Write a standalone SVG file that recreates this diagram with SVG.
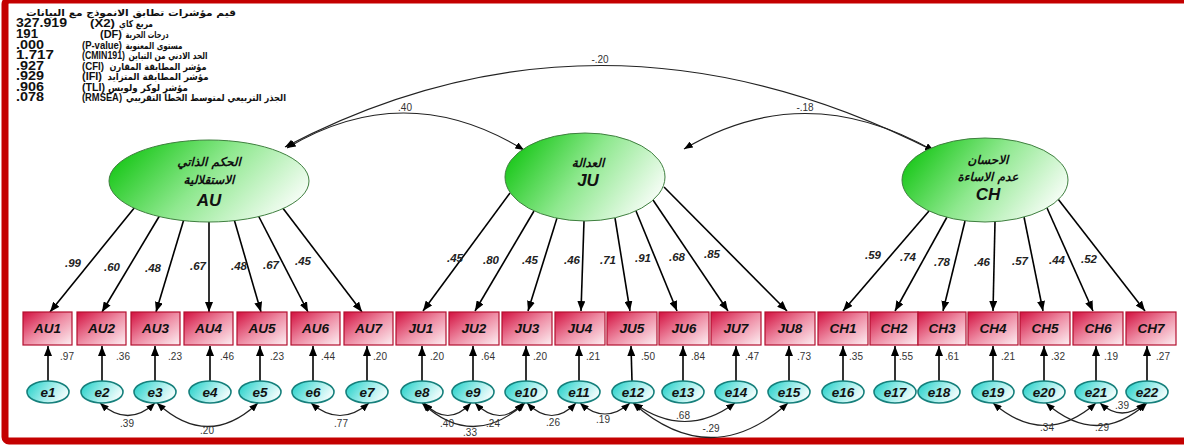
<svg xmlns="http://www.w3.org/2000/svg" width="1184" height="446" viewBox="0 0 1184 446">
<defs>
<linearGradient id="gBox" x1="0" y1="0" x2="1" y2="1">
<stop offset="0" stop-color="#d3103f"/><stop offset="0.5" stop-color="#ee8ca4"/><stop offset="1" stop-color="#fdf0f3"/>
</linearGradient>
<linearGradient id="gLat" x1="0" y1="0.35" x2="1" y2="0.75">
<stop offset="0" stop-color="#1cc81c"/><stop offset="0.45" stop-color="#8ee88e"/><stop offset="1" stop-color="#ffffff"/>
</linearGradient>
<linearGradient id="gErr" x1="0" y1="0.3" x2="1" y2="0.7">
<stop offset="0" stop-color="#2fd3cc"/><stop offset="0.55" stop-color="#a8efec"/><stop offset="1" stop-color="#ffffff"/>
</linearGradient>
<marker id="ah" viewBox="0 0 10 8" refX="10" refY="4" markerWidth="10" markerHeight="8" markerUnits="userSpaceOnUse" orient="auto-start-reverse">
<path d="M0,0 L10,4 L0,8 z" fill="#000"/>
</marker>
<marker id="ahs" viewBox="0 0 10 8" refX="10" refY="4" markerWidth="9" markerHeight="7" markerUnits="userSpaceOnUse" orient="auto-start-reverse">
<path d="M0,0 L10,4 L0,8 z" fill="#000"/>
</marker>
</defs>
<style>
.box{fill:url(#gBox);stroke:#b3102f;stroke-width:1.2}
.lat{fill:url(#gLat);stroke:#3f7f3f;stroke-width:1}
.err{fill:url(#gErr);stroke:#16807c;stroke-width:1.6}
.bl{font-family:"Liberation Sans",Arial,sans-serif;font-weight:bold;font-style:italic;font-size:13.5px;fill:#111;text-anchor:middle}
.el{font-family:"Liberation Sans",Arial,sans-serif;font-weight:bold;font-style:italic;font-size:13.5px;fill:#111;text-anchor:middle}
.ld{font-family:"Liberation Sans",Arial,sans-serif;font-weight:bold;font-style:italic;font-size:11.5px;fill:#222;text-anchor:middle}
.sm{font-family:"Liberation Sans",Arial,sans-serif;font-size:10px;fill:#333;text-anchor:middle}
.ar{font-family:"DejaVu Sans",sans-serif;font-weight:bold;font-size:9.5px;fill:#111;text-anchor:middle}
.num{font-family:"Liberation Sans",Arial,sans-serif;font-weight:bold;font-size:12px;fill:#111}
.pr{font-family:"Liberation Sans",Arial,sans-serif;font-weight:bold;font-size:11.5px;fill:#111}
.lt{font-family:"DejaVu Sans",sans-serif;font-weight:bold;font-style:italic;font-size:12px;fill:#111;text-anchor:middle}
.lc{font-family:"Liberation Sans",Arial,sans-serif;font-weight:bold;font-style:italic;font-size:17px;fill:#111;text-anchor:middle}
.ln{stroke:#000;stroke-width:1.6;fill:none;marker-end:url(#ah)}
.cv{stroke:#222;stroke-width:1.2;fill:none;marker-start:url(#ahs);marker-end:url(#ahs)}
</style>
<rect x="0" y="0" width="1184" height="446" fill="#fff"/>
<rect x="5" y="0" width="1186" height="441" rx="4" fill="none" stroke="#c40000" stroke-width="7"/>

<g id="fit-indices">
<text class="ar" x="131" y="16" textLength="210" lengthAdjust="spacingAndGlyphs">قيم مؤشرات تطابق الانموذج مع البيانات</text>
<text class="num" x="16" y="27" textLength="51" lengthAdjust="spacingAndGlyphs">327.919</text><text class="pr" x="90" y="27" textLength="25" lengthAdjust="spacingAndGlyphs">(X2)</text><text class="ar" x="136" y="27" textLength="34" lengthAdjust="spacingAndGlyphs">مربع كاي</text>
<text class="num" x="16" y="38" textLength="22" lengthAdjust="spacingAndGlyphs">191</text><text class="pr" x="100" y="38" textLength="22" lengthAdjust="spacingAndGlyphs">(DF)</text><text class="ar" x="147" y="38" textLength="43" lengthAdjust="spacingAndGlyphs">درجات الحرية</text>
<text class="num" x="16" y="49" textLength="28" lengthAdjust="spacingAndGlyphs">.000</text><text class="pr" x="82" y="49" textLength="40" lengthAdjust="spacingAndGlyphs">(P-value)</text><text class="ar" x="154" y="49" textLength="57" lengthAdjust="spacingAndGlyphs">مستوى المعنوية</text>
<text class="num" x="16" y="59" textLength="38" lengthAdjust="spacingAndGlyphs">1.717</text><text class="pr" x="82" y="59" textLength="43" lengthAdjust="spacingAndGlyphs">(CMIN191)</text><text class="ar" x="168" y="59" textLength="79" lengthAdjust="spacingAndGlyphs">الحد الادني من التباين</text>
<text class="num" x="16" y="70" textLength="28" lengthAdjust="spacingAndGlyphs">.927</text><text class="pr" x="82" y="70" textLength="22" lengthAdjust="spacingAndGlyphs">(CFI)</text><text class="ar" x="158" y="70" textLength="97" lengthAdjust="spacingAndGlyphs">مؤشر المطابقة المقارن</text>
<text class="num" x="16" y="80" textLength="28" lengthAdjust="spacingAndGlyphs">.929</text><text class="pr" x="82" y="80" textLength="20" lengthAdjust="spacingAndGlyphs">(IFI)</text><text class="ar" x="158" y="80" textLength="101" lengthAdjust="spacingAndGlyphs">مؤشر المطابقة المتزايد</text>
<text class="num" x="16" y="91" textLength="28" lengthAdjust="spacingAndGlyphs">.906</text><text class="pr" x="82" y="91" textLength="23" lengthAdjust="spacingAndGlyphs">(TLI)</text><text class="ar" x="148" y="91" textLength="80" lengthAdjust="spacingAndGlyphs">مؤشر لوكر ولويس</text>
<text class="num" x="16" y="101" textLength="28" lengthAdjust="spacingAndGlyphs">.078</text><text class="pr" x="82" y="101" textLength="40" lengthAdjust="spacingAndGlyphs">(RMSEA)</text><text class="ar" x="206" y="101" textLength="160" lengthAdjust="spacingAndGlyphs">الجذر التربيعي لمتوسط الخطأ التقريبي</text>
</g>

<g id="connectors">
<path class="cv" d="M287,148 Q405,77 524,150"/>
<path class="cv" d="M684,149 Q805,77 934,151"/>
<path class="cv" d="M285,147 Q600,-18 934,151"/>
<text class="sm" x="405" y="111">.40</text>
<text class="sm" x="805" y="111">-.18</text>
<text class="sm" x="600" y="63">-.20</text>
<path class="ln" d="M135,207 L50,312"/>
<path class="ln" d="M160,215 L102,312"/>
<path class="ln" d="M184,219 L156,312"/>
<path class="ln" d="M209,220 L209,312"/>
<path class="ln" d="M234,219 L261,312"/>
<path class="ln" d="M258,215 L308,312"/>
<path class="ln" d="M282,207 L362,312"/>
<path class="ln" d="M510,193 L423,311"/>
<path class="ln" d="M534,211 L475,311"/>
<path class="ln" d="M557,218 L528,311"/>
<path class="ln" d="M584,221 L581,311"/>
<path class="ln" d="M615,218 L630,311"/>
<path class="ln" d="M636,211 L677,311"/>
<path class="ln" d="M653,200 L728,311"/>
<path class="ln" d="M664,187 L787,311"/>
<path class="ln" d="M929,211 L843,311"/>
<path class="ln" d="M947,217 L895,311"/>
<path class="ln" d="M965,221 L943,311"/>
<path class="ln" d="M995,222 L993,311"/>
<path class="ln" d="M1024,217 L1043,311"/>
<path class="ln" d="M1047,208 L1093,311"/>
<path class="ln" d="M1058,199 L1145,311"/>
<text class="ld" x="73" y="267">.99</text>
<text class="ld" x="112" y="271">.60</text>
<text class="ld" x="153" y="272">.48</text>
<text class="ld" x="198" y="270">.67</text>
<text class="ld" x="239" y="270">.48</text>
<text class="ld" x="271" y="269">.67</text>
<text class="ld" x="303" y="265">.45</text>
<text class="ld" x="455" y="262">.45</text>
<text class="ld" x="491" y="264">.80</text>
<text class="ld" x="530" y="264">.45</text>
<text class="ld" x="572" y="264">.46</text>
<text class="ld" x="608" y="264">.71</text>
<text class="ld" x="643" y="262">.91</text>
<text class="ld" x="677" y="261">.68</text>
<text class="ld" x="712" y="258">.85</text>
<text class="ld" x="873" y="259">.59</text>
<text class="ld" x="908" y="261">.74</text>
<text class="ld" x="942" y="266">.78</text>
<text class="ld" x="982" y="266">.46</text>
<text class="ld" x="1020" y="265">.57</text>
<text class="ld" x="1057" y="264">.44</text>
<text class="ld" x="1089" y="263">.52</text>
<path class="ln" d="M48,381 L48,346"/>
<path class="ln" d="M102,381 L102,346"/>
<path class="ln" d="M155,381 L155,346"/>
<path class="ln" d="M210,381 L210,346"/>
<path class="ln" d="M260,381 L260,346"/>
<path class="ln" d="M313,381 L313,346"/>
<path class="ln" d="M367,381 L367,346"/>
<path class="ln" d="M422,381 L422,346"/>
<path class="ln" d="M473,381 L473,346"/>
<path class="ln" d="M526,381 L526,346"/>
<path class="ln" d="M579,381 L579,346"/>
<path class="ln" d="M632,381 L631,346"/>
<path class="ln" d="M683,381 L683,346"/>
<path class="ln" d="M736,381 L736,346"/>
<path class="ln" d="M789,381 L789,346"/>
<path class="ln" d="M843,381 L843,346"/>
<path class="ln" d="M895,381 L895,346"/>
<path class="ln" d="M939,381 L939,346"/>
<path class="ln" d="M993,381 L993,346"/>
<path class="ln" d="M1044,381 L1044,346"/>
<path class="ln" d="M1096,381 L1096,346"/>
<path class="ln" d="M1147,381 L1147,346"/>
<text class="sm" x="67" y="360">.97</text>
<text class="sm" x="123" y="360">.36</text>
<text class="sm" x="175" y="360">.23</text>
<text class="sm" x="227" y="360">.46</text>
<text class="sm" x="277" y="360">.23</text>
<text class="sm" x="328" y="360">.44</text>
<text class="sm" x="380" y="360">.20</text>
<text class="sm" x="437" y="360">.20</text>
<text class="sm" x="488" y="360">.64</text>
<text class="sm" x="540" y="360">.20</text>
<text class="sm" x="593" y="360">.21</text>
<text class="sm" x="648" y="360">.50</text>
<text class="sm" x="698" y="360">.84</text>
<text class="sm" x="752" y="360">.47</text>
<text class="sm" x="804" y="360">.73</text>
<text class="sm" x="856" y="360">.35</text>
<text class="sm" x="906" y="360">.55</text>
<text class="sm" x="952" y="360">.61</text>
<text class="sm" x="1008" y="360">.21</text>
<text class="sm" x="1058" y="360">.32</text>
<text class="sm" x="1111" y="360">.19</text>
<text class="sm" x="1163" y="360">.27</text>
<path class="cv" d="M100,403 Q128,428 155,403"/>
<path class="cv" d="M157,403 Q208,450 258,403"/>
<path class="cv" d="M311,403 Q340,428 369,403"/>
<path class="cv" d="M424,403 Q448,428 471,403"/>
<path class="cv" d="M475,403 Q500,428 523,403"/>
<path class="cv" d="M422,403 Q473,450 525,403"/>
<path class="cv" d="M527,403 Q552,428 576,403"/>
<path class="cv" d="M580,403 Q605,425 630,403"/>
<path class="cv" d="M634,403 Q685,440 735,403"/>
<path class="cv" d="M633,403 Q711,472 788,403"/>
<path class="cv" d="M993,403 Q1045,448 1096,403"/>
<path class="cv" d="M1046,403 Q1097,448 1147,403"/>
<path class="cv" d="M1100,403 Q1122,423 1145,403"/>
<text class="sm" x="127" y="427">.39</text>
<text class="sm" x="207" y="434">.20</text>
<text class="sm" x="341" y="427">.77</text>
<text class="sm" x="447" y="427">.40</text>
<text class="sm" x="493" y="427">.24</text>
<text class="sm" x="470" y="436">.33</text>
<text class="sm" x="553" y="426">.26</text>
<text class="sm" x="603" y="423">.19</text>
<text class="sm" x="683" y="419">.68</text>
<text class="sm" x="711" y="432">-.29</text>
<text class="sm" x="1047" y="431">.34</text>
<text class="sm" x="1102" y="431">.29</text>
<text class="sm" x="1122" y="409">.39</text>
</g>

<g id="AU"><ellipse class="lat" cx="209" cy="181" rx="100" ry="41"/><text class="lt" x="209" y="166">الحكم الذاتي</text><text class="lt" x="209" y="184">الاستقلالية</text><text class="lc" x="209" y="206">AU</text></g>
<g id="JU"><ellipse class="lat" cx="585" cy="177" rx="80" ry="44"/><text class="lt" x="588" y="167">العدالة</text><text class="lc" x="588" y="186">JU</text></g>
<g id="CH"><ellipse class="lat" cx="985" cy="180" rx="83" ry="42"/><text class="lt" x="988" y="164">الاحسان</text><text class="lt" x="988" y="181">عدم الاساءة</text><text class="lc" x="988" y="200">CH</text></g>

<g id="AU1"><rect class="box" x="23" y="312" width="49" height="33"/><text class="bl" x="47.5" y="333">AU1</text></g>
<g id="AU2"><rect class="box" x="77" y="312" width="49" height="33"/><text class="bl" x="101.5" y="333">AU2</text></g>
<g id="AU3"><rect class="box" x="131" y="312" width="49" height="33"/><text class="bl" x="155.5" y="333">AU3</text></g>
<g id="AU4"><rect class="box" x="184" y="312" width="49" height="33"/><text class="bl" x="208.5" y="333">AU4</text></g>
<g id="AU5"><rect class="box" x="237" y="312" width="50" height="33"/><text class="bl" x="262" y="333">AU5</text></g>
<g id="AU6"><rect class="box" x="291" y="312" width="49" height="33"/><text class="bl" x="315.5" y="333">AU6</text></g>
<g id="AU7"><rect class="box" x="344" y="312" width="49" height="33"/><text class="bl" x="368.5" y="333">AU7</text></g>
<g id="JU1"><rect class="box" x="396" y="312" width="50" height="33"/><text class="bl" x="421" y="333">JU1</text></g>
<g id="JU2"><rect class="box" x="449" y="312" width="50" height="33"/><text class="bl" x="474" y="333">JU2</text></g>
<g id="JU3"><rect class="box" x="502" y="312" width="50" height="33"/><text class="bl" x="527" y="333">JU3</text></g>
<g id="JU4"><rect class="box" x="555" y="312" width="50" height="33"/><text class="bl" x="580" y="333">JU4</text></g>
<g id="JU5"><rect class="box" x="607" y="312" width="50" height="33"/><text class="bl" x="632" y="333">JU5</text></g>
<g id="JU6"><rect class="box" x="659" y="312" width="50" height="33"/><text class="bl" x="684" y="333">JU6</text></g>
<g id="JU7"><rect class="box" x="711" y="312" width="50" height="33"/><text class="bl" x="736" y="333">JU7</text></g>
<g id="JU8"><rect class="box" x="765" y="312" width="50" height="33"/><text class="bl" x="790" y="333">JU8</text></g>
<g id="CH1"><rect class="box" x="818" y="312" width="50" height="33"/><text class="bl" x="843" y="333">CH1</text></g>
<g id="CH2"><rect class="box" x="870" y="312" width="48" height="33"/><text class="bl" x="894" y="333">CH2</text></g>
<g id="CH3"><rect class="box" x="918" y="312" width="48" height="33"/><text class="bl" x="942" y="333">CH3</text></g>
<g id="CH4"><rect class="box" x="968" y="312" width="50" height="33"/><text class="bl" x="993" y="333">CH4</text></g>
<g id="CH5"><rect class="box" x="1020" y="312" width="50" height="33"/><text class="bl" x="1045" y="333">CH5</text></g>
<g id="CH6"><rect class="box" x="1073" y="312" width="50" height="33"/><text class="bl" x="1098" y="333">CH6</text></g>
<g id="CH7"><rect class="box" x="1126" y="312" width="50" height="33"/><text class="bl" x="1151" y="333">CH7</text></g>

<g id="e1"><ellipse class="err" cx="48" cy="392" rx="21" ry="11"/><text class="el" x="48" y="397">e1</text></g>
<g id="e2"><ellipse class="err" cx="102" cy="392" rx="21" ry="11"/><text class="el" x="102" y="397">e2</text></g>
<g id="e3"><ellipse class="err" cx="155" cy="392" rx="21" ry="11"/><text class="el" x="155" y="397">e3</text></g>
<g id="e4"><ellipse class="err" cx="210" cy="392" rx="21" ry="11"/><text class="el" x="210" y="397">e4</text></g>
<g id="e5"><ellipse class="err" cx="260" cy="392" rx="21" ry="11"/><text class="el" x="260" y="397">e5</text></g>
<g id="e6"><ellipse class="err" cx="313" cy="392" rx="21" ry="11"/><text class="el" x="313" y="397">e6</text></g>
<g id="e7"><ellipse class="err" cx="367" cy="392" rx="21" ry="11"/><text class="el" x="367" y="397">e7</text></g>
<g id="e8"><ellipse class="err" cx="422" cy="392" rx="21" ry="11"/><text class="el" x="422" y="397">e8</text></g>
<g id="e9"><ellipse class="err" cx="473" cy="392" rx="21" ry="11"/><text class="el" x="473" y="397">e9</text></g>
<g id="e10"><ellipse class="err" cx="526" cy="392" rx="21" ry="11"/><text class="el" x="526" y="397">e10</text></g>
<g id="e11"><ellipse class="err" cx="579" cy="392" rx="21" ry="11"/><text class="el" x="579" y="397">e11</text></g>
<g id="e12"><ellipse class="err" cx="633" cy="392" rx="21" ry="11"/><text class="el" x="633" y="397">e12</text></g>
<g id="e13"><ellipse class="err" cx="683" cy="392" rx="21" ry="11"/><text class="el" x="683" y="397">e13</text></g>
<g id="e14"><ellipse class="err" cx="736" cy="392" rx="21" ry="11"/><text class="el" x="736" y="397">e14</text></g>
<g id="e15"><ellipse class="err" cx="789" cy="392" rx="21" ry="11"/><text class="el" x="789" y="397">e15</text></g>
<g id="e16"><ellipse class="err" cx="843" cy="392" rx="21" ry="11"/><text class="el" x="843" y="397">e16</text></g>
<g id="e17"><ellipse class="err" cx="895" cy="392" rx="21" ry="11"/><text class="el" x="895" y="397">e17</text></g>
<g id="e18"><ellipse class="err" cx="939" cy="392" rx="21" ry="11"/><text class="el" x="939" y="397">e18</text></g>
<g id="e19"><ellipse class="err" cx="993" cy="392" rx="21" ry="11"/><text class="el" x="993" y="397">e19</text></g>
<g id="e20"><ellipse class="err" cx="1044" cy="392" rx="21" ry="11"/><text class="el" x="1044" y="397">e20</text></g>
<g id="e21"><ellipse class="err" cx="1096" cy="392" rx="21" ry="11"/><text class="el" x="1096" y="397">e21</text></g>
<g id="e22"><ellipse class="err" cx="1147" cy="392" rx="21" ry="11"/><text class="el" x="1147" y="397">e22</text></g>
</svg>
